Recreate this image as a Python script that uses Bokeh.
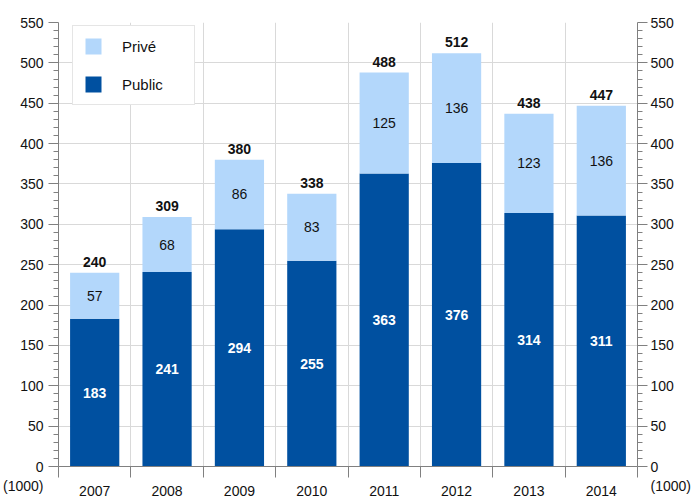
from bokeh.plotting import figure
from bokeh.models import (Range1d, FixedTicker, LinearAxis,
                          Legend, LegendItem, ColumnDataSource)
from bokeh.embed import file_html
from bokeh.resources import INLINE
from bokeh.core.properties import value

years = ["2007", "2008", "2009", "2010", "2011", "2012", "2013", "2014"]
public = [183, 241, 294, 255, 363, 376, 314, 311]
prive = [57, 68, 86, 83, 125, 136, 123, 136]
totals = [240, 309, 380, 338, 488, 512, 438, 447]
y_ticks = [0, 50, 100, 150, 200, 250, 300, 350, 400, 450, 500, 550]
unit_label = "(1000)"

PUB_C = "#0050a0"
PRI_C = "#b3d7fb"
FONT = "Liberation Sans"
AX_C = "#808080"

n = len(years)
xc = [i + 0.5 for i in range(n)]
src = ColumnDataSource(dict(
    x=xc, public=public, prive=prive,
    top=[a + b for a, b in zip(public, prive)],
    pub_mid=[a / 2 for a in public],
    pri_mid=[a + b / 2 for a, b in zip(public, prive)],
    pub_txt=[str(v) for v in public],
    pri_txt=[str(v) for v in prive],
    tot_txt=[str(v) for v in totals],
))

p = figure(width=693, height=498, x_range=Range1d(0, n), y_range=Range1d(0, 550),
           output_backend="svg", toolbar_location=None,
           min_border_left=58, min_border_right=44, min_border_top=22, min_border_bottom=31)
p.outline_line_color = None
p.background_fill_color = "white"
p.border_fill_color = "white"

r_pub = p.vbar(x="x", bottom=0, top="public", width=0.68, source=src,
               fill_color=PUB_C, line_color=None)
r_pri = p.vbar(x="x", bottom="public", top="top", width=0.68, source=src,
               fill_color=PRI_C, line_color=None)

p.text(x="x", y="pub_mid", text="pub_txt", source=src, text_align="center",
       text_baseline="middle", text_color="white", text_font=value(FONT),
       text_font_size="14px", text_font_style="bold")
p.text(x="x", y="pri_mid", text="pri_txt", source=src, text_align="center",
       text_baseline="middle", text_color="#111111", text_font=value(FONT),
       text_font_size="14px")
p.text(x="x", y="top", text="tot_txt", source=src, text_align="center",
       text_baseline="bottom", y_offset=-6, text_color="#111111", text_font=value(FONT),
       text_font_size="14px", text_font_style="bold")

# grids
p.xgrid.ticker = FixedTicker(ticks=list(range(n + 1)))
p.xgrid.grid_line_color = "#d9d9d9"
p.ygrid.ticker = FixedTicker(ticks=y_ticks)
p.ygrid.grid_line_color = "#d9d9d9"

# x axis
xa = p.xaxis[0]
xa.ticker = FixedTicker(ticks=xc, minor_ticks=list(range(n + 1)))
xa.major_label_overrides = {x: y for x, y in zip(xc, years)}
xa.major_tick_line_color = None
xa.major_tick_out = 0
xa.major_tick_in = 0
xa.minor_tick_out = 11
xa.minor_tick_in = 0
xa.minor_tick_line_color = AX_C
xa.axis_line_color = AX_C
xa.major_label_standoff = 8
xa.major_label_text_font = FONT
xa.major_label_text_font_size = "14px"
xa.major_label_text_color = "#111111"

minor_y = [v for v in range(0, 551, 10) if v % 50 != 0]

def style_y(ax, standoff):
    ax.ticker = FixedTicker(ticks=y_ticks, minor_ticks=minor_y)
    ax.major_label_overrides = {0: " \n0\n" + unit_label}
    ax.axis_line_color = AX_C
    ax.major_tick_line_color = AX_C
    ax.minor_tick_line_color = AX_C
    ax.major_tick_out = 10
    ax.major_tick_in = 0
    ax.minor_tick_out = 5
    ax.minor_tick_in = 0
    ax.major_label_standoff = standoff
    ax.major_label_text_font = FONT
    ax.major_label_text_font_size = "14px"
    ax.major_label_text_color = "#111111"

style_y(p.yaxis[0], 5)
ra = LinearAxis()
style_y(ra, 3)
p.add_layout(ra, "right")

legend = Legend(items=[LegendItem(label="Privé", renderers=[r_pri]),
                       LegendItem(label="Public", renderers=[r_pub])],
                location=(14, 361), padding=10, spacing=18,
                glyph_width=20, glyph_height=20, label_standoff=19,
                label_width=62, label_height=20,
                label_text_font=FONT, label_text_font_size="15px",
                label_text_color="#111111",
                border_line_color="#cccccc", background_fill_alpha=1.0)
p.add_layout(legend, "center")

open("out.html", "w").write(file_html(p, INLINE))
